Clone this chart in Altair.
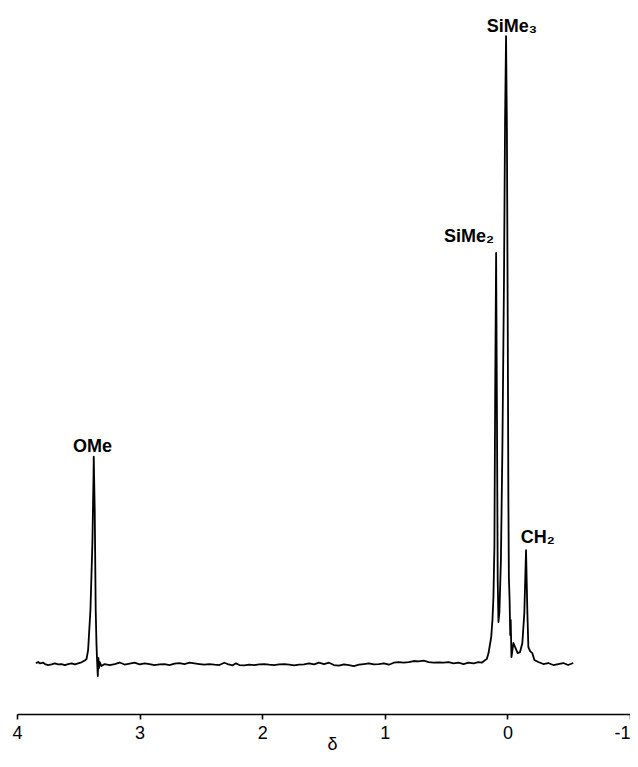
import altair as alt
import pandas as pd

# chemical shift (ppm) of each traced point of the spectrum
delta = [
    3.846, 3.827, 3.813, 3.786, 3.772, 3.746, 3.718, 3.691, 3.664, 3.637, 3.610, 3.583, 3.555, 3.528, 3.502, 3.474, 3.447, 3.433,
    3.420, 3.401, 3.385, 3.376, 3.374, 3.366, 3.358, 3.352, 3.347, 3.341, 3.336, 3.331, 3.325, 3.311,
    3.285, 3.244, 3.203, 3.163, 3.122, 3.081, 3.041, 3.000, 2.959, 2.919, 2.878, 2.837, 2.797, 2.756, 2.715, 2.675,
    2.634, 2.593, 2.553, 2.512, 2.472, 2.431, 2.390, 2.350, 2.309, 2.282, 2.241, 2.214, 2.187, 2.146, 2.106, 2.065,
    2.024, 1.984, 1.943, 1.902, 1.862, 1.821, 1.780, 1.740, 1.699, 1.659, 1.618, 1.577, 1.537, 1.496, 1.455,
    1.415, 1.374, 1.333, 1.293, 1.252, 1.211, 1.171, 1.130, 1.089, 1.049, 1.008, 0.967, 0.927, 0.886, 0.846, 0.805,
    0.764, 0.724, 0.683, 0.642, 0.602, 0.561, 0.520, 0.480, 0.439, 0.398, 0.358, 0.317, 0.276, 0.236, 0.209, 0.181,
    0.168, 0.154, 0.132, 0.122, 0.114, 0.106, 0.100, 0.092, 0.085, 0.079, 0.073, 0.065, 0.053, 0.041, 0.028, 0.019,
    0.011, 0.004, -0.002, -0.008, -0.012, -0.018, -0.023, -0.027, -0.033, -0.049, -0.063, -0.084, -0.103, -0.122,
    -0.138, -0.152, -0.163, -0.171, -0.185, -0.203, -0.220, -0.252, -0.293, -0.333, -0.374, -0.415, -0.455, -0.496, -0.537,
]

# signal intensity (SiMe3 peak = 100)
intensity = [
    -0.05, 0.16, -0.05, 0.05, -0.16, -0.32, -0.21, -0.05, -0.21, -0.16, -0.32, -0.16, -0.05, -0.21, -0.05, 0.11, 0.40, 0.64,
    2.07, 8.45, 19.1, 29.7, 32.9, 24.4, 8.45, 3.19, 0.48, -2.07, 0.80, -0.80, 0.16, -0.48,
    -0.16, -0.32, -0.16, 0.08, -0.24, -0.08, 0.05, -0.21, -0.05, -0.16, -0.32, -0.21, -0.16, -0.32, -0.08, 0.00,
    -0.16, 0.05, -0.05, -0.16, -0.27, -0.16, -0.27, -0.32, 0.05, -0.16, -0.37, -0.05, -0.32, -0.37, -0.27, -0.32,
    -0.21, -0.16, -0.27, -0.32, -0.21, -0.16, -0.27, -0.37, -0.27, -0.21, -0.05, -0.21, 0.05, -0.16, 0.05,
    -0.32, -0.43, -0.21, -0.32, -0.48, -0.27, -0.16, -0.05, -0.21, -0.16, -0.05, -0.27, 0.05, 0.16, 0.05, 0.16,
    0.32, 0.27, 0.37, 0.16, 0.05, 0.11, 0.05, 0.16, -0.05, 0.05, -0.16, 0.05, -0.05, 0.16, 0.05, 0.48,
    0.64, 1.59, 4.15, 6.86, 10.5, 18.5, 41.9, 65.4, 38.8, 13.2, 6.54, 8.13, 16.4, 34.0, 60.6, 86.6,
    100.0, 85.0, 57.9, 26.0, 13.7, 10.0, 4.47, 6.86, 0.96, 3.19, 2.55, 1.59, 1.75, 3.19,
    7.97, 18.0, 7.97, 2.55, 1.91, 1.59, 0.48, 0.16, -0.16, 0.00, -0.32, -0.16, 0.00, -0.32, 0.00,
]

# peak annotations
label_text = ["OMe", "SiMe₂", "SiMe₃", "CH₂"]
label_delta = [3.385, 0.313, -0.037, -0.248]
label_intensity = [33.6, 67.1, 100.7, 19.1]

tick_values = [4, 3, 2, 1, 0, -1]

spec = pd.DataFrame({"delta": delta, "intensity": intensity, "idx": list(range(len(delta)))})
labels = pd.DataFrame({"text": label_text, "delta": label_delta, "intensity": label_intensity})

x_scale = alt.Scale(domain=[4, -1], nice=False, zero=False)
y_scale = alt.Scale(domain=[-8.13, 104.47], nice=False, zero=False)

FONT = "Liberation Sans"

x_axis = alt.Axis(
    values=tick_values,
    title="δ",
    grid=False,
    domainColor="black",
    domainWidth=1.6,
    tickColor="black",
    tickWidth=1.6,
    tickSize=5,
    labelFont=FONT,
    labelFontSize=18,
    labelColor="black",
    labelPadding=5,
    labelFlush=False,
    labelExpr="toString(datum.value)",
    labelAlign=alt.condition("datum.value == -1", alt.value("right"), alt.value("center")),
    titleFont=FONT,
    titleFontSize=18,
    titleFontWeight="normal",
    titleColor="black",
    titleX=315,
    titleY=35,
    titleAlign="center",
    titleBaseline="alphabetic",
)

line = alt.Chart(spec).mark_line(
    color="black", strokeWidth=1.8, strokeJoin="round"
).encode(
    x=alt.X("delta:Q", scale=x_scale, axis=x_axis),
    y=alt.Y("intensity:Q", scale=y_scale, axis=None),
    order=alt.Order("idx:Q"),
)

text = alt.Chart(labels).mark_text(
    font=FONT, fontWeight="bold", fontSize=18, baseline="alphabetic", align="center", color="black"
).encode(
    x=alt.X("delta:Q", scale=x_scale, axis=x_axis),
    y=alt.Y("intensity:Q", scale=y_scale, axis=None),
    text="text:N",
)

chart = alt.layer(line, text).properties(
    width=613,
    height=706,
    padding={"left": 9, "top": 0, "right": 0, "bottom": 39},
    autosize=alt.AutoSizeParams(type="none"),
    background="white",
).configure_view(stroke=None)

chart.save("out.html", embed_options={"renderer": "svg", "actions": False})
